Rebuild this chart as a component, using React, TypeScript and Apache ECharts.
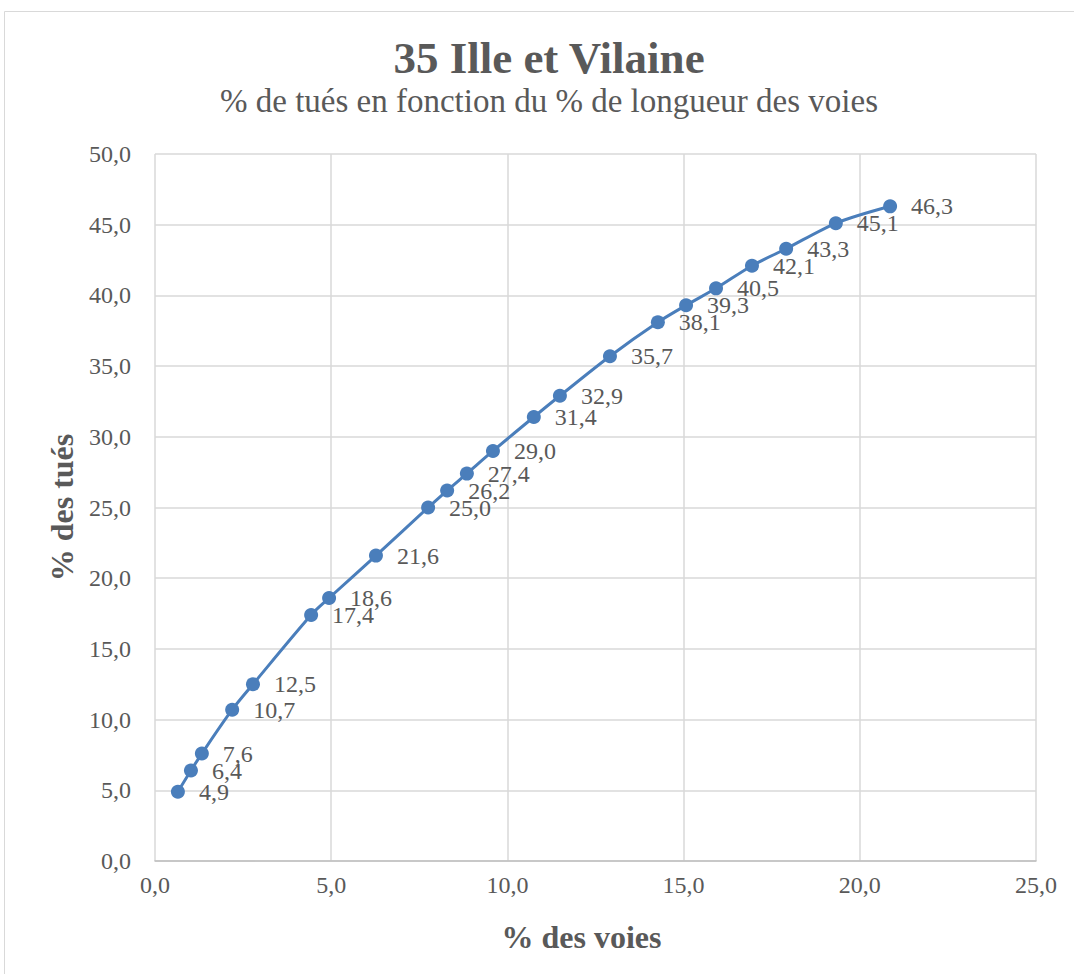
import React, { useEffect, useRef } from "react";
import * as echarts from "echarts";

const titleText = "35 Ille et Vilaine";
const subtitleText = "% de tués en fonction du % de longueur des voies";
const xAxisName = "% des voies";
const yAxisName = "% des tués";

const pctVoies = [0.65, 1.02, 1.33, 2.19, 2.78, 4.43, 4.94, 6.27, 7.75, 8.29, 8.85, 9.59, 10.75, 11.49, 12.91, 14.27, 15.07, 15.92, 16.94, 17.91, 19.32, 20.86];
const pctTues = [4.9, 6.4, 7.6, 10.7, 12.5, 17.4, 18.6, 21.6, 25.0, 26.2, 27.4, 29.0, 31.4, 32.9, 35.7, 38.1, 39.3, 40.5, 42.1, 43.3, 45.1, 46.3];

const fmt = (v: number) => v.toFixed(1).replace(".", ",");

export default function App() {
  const ref = useRef<HTMLDivElement>(null);
  useEffect(() => {
    document.body.style.margin = "0";
    const chart = echarts.init(ref.current!, null, { renderer: "svg" });
    const font = "'Liberation Serif', 'Times New Roman', serif";
    const textColor = "#595959";
    chart.setOption({
      animation: false,
      backgroundColor: "#ffffff",
      graphic: [
        {
          type: "rect",
          shape: { x: 4.5, y: 11.5, width: 1100, height: 1000 },
          style: { fill: "none", stroke: "#d9d9d9", lineWidth: 1 },
          z: -1,
        },
        {
          type: "text",
          x: 549,
          y: 58,
          style: {
            text: titleText,
            fill: textColor,
            font: `bold 45px ${font}`,
            textAlign: "center",
            textVerticalAlign: "middle",
          },
        },
        {
          type: "text",
          x: 549,
          y: 101,
          style: {
            text: subtitleText,
            fill: textColor,
            font: `33px ${font}`,
            textAlign: "center",
            textVerticalAlign: "middle",
          },
        },
      ],
      grid: { left: 155, right: 38, top: 154, bottom: 113 },
      xAxis: {
        type: "value",
        min: 0,
        max: 25,
        interval: 5,
        name: xAxisName,
        nameLocation: "middle",
        nameGap: 60,
        nameTextStyle: {
          fontFamily: font,
          fontSize: 32,
          fontWeight: "bold",
          color: textColor,
          padding: [0, 28, 0, 0],
        },
        axisLine: { show: true, lineStyle: { color: "#bfbfbf", width: 1.5 } },
        axisTick: { show: false },
        axisLabel: {
          formatter: (v: number) => fmt(v),
          fontFamily: font,
          fontSize: 24,
          color: textColor,
          margin: 12,
        },
        splitLine: { show: true, lineStyle: { color: "#d9d9d9", width: 1.5 } },
      },
      yAxis: {
        type: "value",
        min: 0,
        max: 50,
        interval: 5,
        name: yAxisName,
        nameLocation: "middle",
        nameGap: 70,
        nameRotate: 90,
        nameTextStyle: {
          fontFamily: font,
          fontSize: 32,
          fontWeight: "bold",
          color: textColor,
        },
        axisLine: { show: false },
        axisTick: { show: false },
        axisLabel: {
          formatter: (v: number) => fmt(v),
          fontFamily: font,
          fontSize: 24,
          color: textColor,
          margin: 24,
        },
        splitLine: { show: true, lineStyle: { color: "#d9d9d9", width: 1.5 } },
      },
      series: [
        {
          type: "line",
          data: pctVoies.map((x, i) => [x, pctTues[i]]),
          smooth: 0.3,
          symbol: "circle",
          symbolSize: 14,
          itemStyle: { color: "#4a7ebb" },
          lineStyle: { color: "#4a7ebb", width: 3 },
          label: {
            show: true,
            position: "right",
            distance: 14,
            formatter: (p: any) => fmt(p.value[1]),
            fontFamily: font,
            fontSize: 24,
            color: textColor,
          },
        },
      ],
    });
    return () => chart.dispose();
  }, []);
  return <div ref={ref} style={{ width: 1074, height: 974 }} />;
}
